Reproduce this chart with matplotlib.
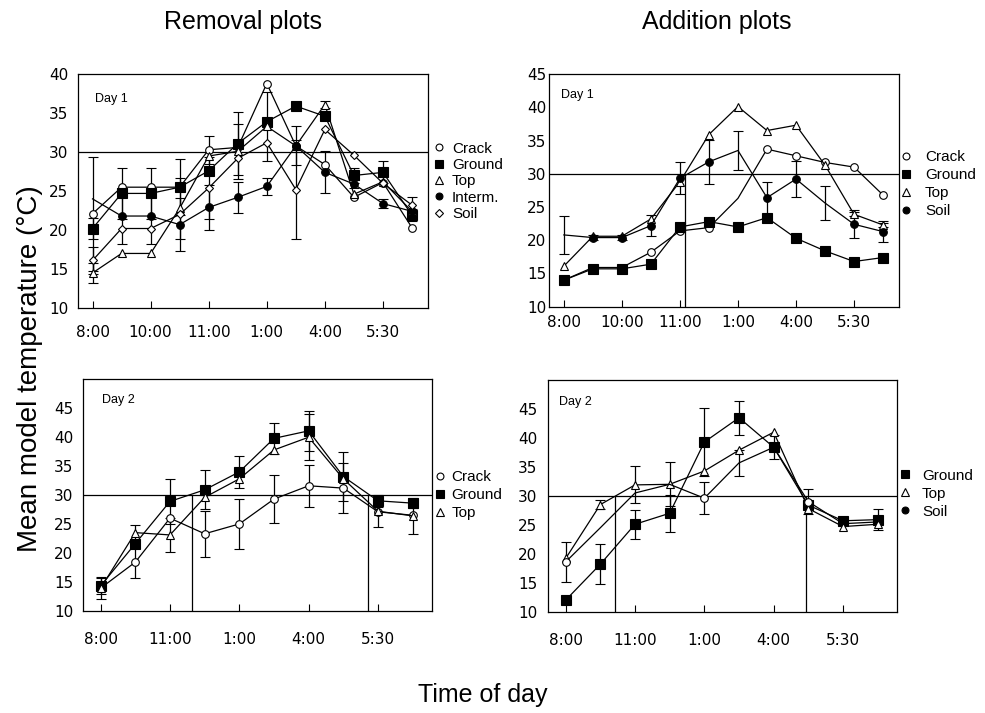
import numpy as np
import matplotlib
matplotlib.use('Agg')
import matplotlib.pyplot as plt
from matplotlib.lines import Line2D

plt.rcParams['font.family'] = ['Liberation Sans', 'DejaVu Sans']

# tick labels (every second reading)
ticks_day1 = ['8:00', '10:00', '11:00', '1:00', '4:00', '5:30']
ticks_day2 = ['8:00', '11:00', '1:00', '4:00', '5:30']

# Removal plots, day 1 (12 readings)
crack_r1 = [22.1, 25.5, 25.5, 25.5, 30.3, 30.6, 38.8, 30.8, 28.4, 24.2, 26.1, 20.3]
ground_r1 = [20.2, 24.7, 24.7, 25.5, 27.6, 31.1, 33.9, 35.9, 34.6, 27.0, 27.4, 21.9]
top_r1 = [14.5, 17.0, 17.0, 22.8, 29.5, 30.1, 33.3, 30.8, 36.1, 24.6, 26.2, 22.4]
interm_r1 = [24.0, 21.8, 21.8, 20.7, 22.9, 24.2, 25.6, 30.8, 27.4, 25.9, 23.4, 22.4]
soil_r1 = [16.1, 20.2, 20.2, 22.0, 25.4, 29.2, 31.2, 25.2, 32.9, 29.6, 26.0, 23.2]
crack_r1_err = [7.3, 0, 0, 0, 1.8, 0, 0, 0, 0, 0, 0, 0]
ground_r1_err = [1.4, 3.3, 3.3, 3.6, 0, 4.0, 0, 0, 0, 1.0, 1.4, 0.8]
top_r1_err = [1.3, 0, 0, 3.9, 0, 3.5, 4.4, 0, 0.4, 0, 0, 0]
interm_r1_err = [0, 3.6, 3.6, 3.4, 2.9, 2.0, 1.1, 2.5, 2.7, 0.5, 0.6, 0]
soil_r1_err = [1.7, 0, 0, 0, 4.0, 0, 0, 6.3, 0, 0, 0, 1.1]

# Addition plots, day 1
crack_a1 = [14.0, 15.9, 15.9, 18.2, 21.4, 21.9, 26.3, 33.7, 32.7, 31.7, 31.0, 26.8]
ground_a1 = [14.0, 15.7, 15.7, 16.4, 22.0, 22.8, 22.0, 23.4, 20.3, 18.4, 16.8, 17.4]
top_a1 = [16.1, 20.6, 20.6, 23.2, 28.8, 35.9, 40.1, 36.5, 37.3, 31.3, 23.9, 22.3]
soil_a1 = [20.8, 20.4, 20.4, 22.2, 29.3, 31.8, 33.5, 26.4, 29.2, 25.6, 22.4, 21.3]
top_a1_err = [0, 0, 0, 0, 0, 0, 0, 0, 0, 0, 0.3, 0.3]
soil_a1_err = [2.9, 0.4, 0.4, 1.6, 2.4, 3.3, 3.0, 2.4, 2.7, 2.5, 2.1, 1.6]

# Removal plots, day 2 (10 readings)
crack_r2 = [13.9, 18.4, 26.0, 23.3, 25.0, 29.3, 31.6, 31.2, 27.1, 26.5]
ground_r2 = [14.3, 21.6, 28.9, 30.9, 34.0, 39.8, 41.1, 33.2, 29.0, 28.6]
top_r2 = [13.9, 23.5, 23.1, 29.6, 32.8, 37.8, 40.0, 32.8, 27.2, 26.4]
crack_r2_err = [0, 2.8, 0, 4.0, 4.3, 4.1, 3.6, 4.3, 2.7, 0]
ground_r2_err = [1.5, 0, 3.9, 3.4, 2.8, 2.7, 3.5, 4.3, 1.0, 0.8]
top_r2_err = [1.8, 1.3, 2.9, 0, 0, 0, 4.0, 0, 0, 3.1]

# Addition plots, day 2
ground_a2 = [12.0, 18.2, 25.1, 27.0, 39.3, 43.5, 38.4, 28.4, 25.7, 25.9]
top_a2 = [19.2, 28.5, 31.9, 32.0, 34.3, 37.9, 41.0, 27.8, 24.7, 25.1]
soil_a2 = [18.6, 24.5, 30.5, 32.0, 29.6, 35.7, 38.4, 29.0, 25.2, 25.5]
ground_a2_err = [0, 3.5, 2.5, 3.2, 5.8, 2.9, 2.1, 0, 0, 1.8]
top_a2_err = [0, 0.8, 3.2, 3.8, 0, 0, 0, 0, 0, 0]
soil_a2_err = [3.4, 0, 0, 0, 2.8, 2.3, 0, 2.2, 0, 0]

# dividing lines (reading index where the 30 degree crossing is marked)
cut_a1 = [4.17]
cut_r2 = [2.64, 7.71]
cut_a2 = [1.43, 6.92]

open_circle = dict(marker='o', mfc='white', ms=5.5)
filled_square = dict(marker='s', mfc='black', ms=6.5)
open_triangle = dict(marker='^', mfc='white', ms=6)
filled_circle = dict(marker='o', mfc='black', ms=5.5)
open_diamond = dict(marker='D', mfc='white', ms=4.3)


def draw_panel(ax, series, ticklabels, ylim, ymax_tick, cuts, day, day_xy,
               xpad, ypad, leg_xy, leg_space, leg_h, leg_p, leg=None):
    n = len(series[0][1])
    x = np.arange(n)
    for name, vals, err, st, shown in series:
        if err is None:
            e = None
        else:
            err = np.asarray(err, dtype=float)
            e = np.where(err > 0, err, np.nan)
        ax.errorbar(x, vals, yerr=e, color='black', lw=0.9, elinewidth=0.9,
                    capsize=3.5, capthick=0.9, mec='black', mew=0.8,
                    markevery=shown, **st)
    ax.axhline(30, color='black', lw=0.9, zorder=1)
    ax.vlines(cuts, ylim[0], 30, color='black', lw=0.9)
    ax.set_xlim(-0.5, n - 0.45)
    ax.set_ylim(*ylim)
    ax.set_xticks(x[::2])
    ax.set_xticklabels(ticklabels)
    ax.set_yticks(np.arange(10, ymax_tick + 1, 5))
    ax.tick_params(axis='x', direction='in', length=5, width=0.8, pad=xpad)
    ax.tick_params(axis='y', length=0, pad=ypad)
    for lab in ax.get_xticklabels() + ax.get_yticklabels():
        lab.set_family('DejaVu Sans')
        lab.set_fontsize(11)
    for s in ax.spines.values():
        s.set_linewidth(0.9)
    ax.text(day_xy[0], day_xy[1], day, transform=ax.transAxes, fontsize=9,
            va='center', ha='left')
    handles = []
    labels = []
    for name, vals, err, st, shown in series:
        st2 = dict(st)
        if leg is not None and name in leg:
            st2.update(leg[name])
        st2['ms'] = st2['ms'] * 0.9
        handles.append(Line2D([], [], ls='none', color='black', mec='black', mew=0.8, **st2))
        labels.append(name)
    ax.legend(handles, labels, loc='upper left', bbox_to_anchor=leg_xy,
              frameon=False, fontsize=11, handlelength=leg_h, handletextpad=leg_p,
              labelspacing=leg_space, borderpad=0, borderaxespad=0)


fig = plt.figure(figsize=(9.85, 7.13), dpi=100)
ax1 = fig.add_axes([0.0792, 0.568, 0.3553, 0.328])
ax2 = fig.add_axes([0.5577, 0.5698, 0.355, 0.3264])
ax3 = fig.add_axes([0.0846, 0.1435, 0.3537, 0.3244])
ax4 = fig.add_axes([0.5567, 0.1421, 0.3537, 0.3248])

every12 = list(range(12))
every10 = list(range(10))

draw_panel(ax1, [
    ('Crack', crack_r1, crack_r1_err, open_circle, every12),
    ('Ground', ground_r1, ground_r1_err, filled_square, every12),
    ('Top', top_r1, top_r1_err, open_triangle, every12),
    ('Interm.', interm_r1, interm_r1_err, filled_circle, every12[1:]),
    ('Soil', soil_r1, soil_r1_err, open_diamond, every12),
], ticks_day1, (10, 40), 40, [], 'Day 1', (0.049, 0.893),
    12, 7, (1.014, 0.711), 0.15, 0.8, 0.45)

draw_panel(ax2, [
    ('Crack', crack_a1, None, open_circle, [i for i in every12 if i != 6]),
    ('Ground', ground_a1, None, filled_square, every12),
    ('Top', top_a1, top_a1_err, open_triangle, every12),
    ('Soil', soil_a1, soil_a1_err, filled_circle, [i for i in every12 if i not in (0, 6, 9)]),
], ticks_day1, (10, 45), 45, cut_a1, 'Day 1', (0.033, 0.91),
    6, 2, (0.998, 0.6715), 0.26, 1.0, 0.74)

draw_panel(ax3, [
    ('Crack', crack_r2, crack_r2_err, open_circle, every10),
    ('Ground', ground_r2, ground_r2_err, filled_square, every10),
    ('Top', top_r2, top_r2_err, open_triangle, every10),
], ticks_day2, (10, 50), 45, cut_r2, 'Day 2', (0.055, 0.911),
    15, 7, (1.006, 0.6066), 0.26, 0.8, 0.36)

draw_panel(ax4, [
    ('Ground', ground_a2, ground_a2_err, filled_square, every10),
    ('Top', top_a2, top_a2_err, open_triangle, every10),
    ('Soil', soil_a2, soil_a2_err, open_circle, [0, 4, 7]),
], ticks_day2, (10, 50), 45, cut_a2, 'Day 2', (0.031, 0.904),
    15, 8, (1.002, 0.6177), 0.26, 1.0, 0.6, leg={'Soil': {'mfc': 'black'}})

fig.text(0.2467, 0.969, 'Removal plots', fontsize=18, ha='center', va='center')
fig.text(0.728, 0.969, 'Addition plots', fontsize=18, ha='center', va='center')
fig.text(0.030, 0.4825, 'Mean model temperature (\u00b0C)', fontsize=20,
         rotation=90, ha='center', va='center')
fig.text(0.49, 0.0252, 'Time of day', fontsize=18, ha='center', va='center')

fig.savefig('out.png', dpi=100)
